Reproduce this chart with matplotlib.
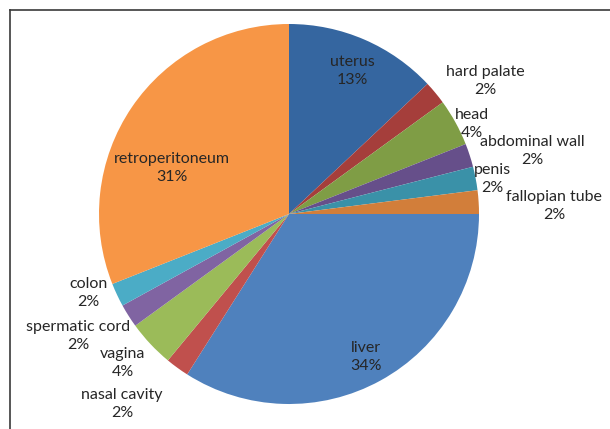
import matplotlib
matplotlib.use("Agg")
import matplotlib.pyplot as plt
from matplotlib.lines import Line2D

categories = ["uterus", "hard palate", "head", "abdominal wall", "penis",
              "fallopian tube", "liver", "nasal cavity", "vagina",
              "spermatic cord", "colon", "retroperitoneum"]
values = [13, 2, 4, 2, 2, 2, 34, 2, 4, 2, 2, 31]

colors = ["#3566A0", "#A53E3B", "#7F9D45", "#664F8A", "#3A91A8", "#D27E3A",
          "#4F81BD", "#C0504D", "#9BBB59", "#8064A2", "#4BACC6", "#F79646"]

# label centre positions in pixel layout (x from left, y from top)
label_pos = [(352, 71), (485, 81), (472, 124), (532, 151), (492, 179),
             (554, 206), (366, 357), (122, 404), (123, 363), (78, 336),
             (88, 293), (172, 168)]

W, H = 610, 429
fig = plt.figure(figsize=(W / 100, H / 100), dpi=100)
ax = fig.add_axes([0, 0, 1, 1])

cx, cy, r = 289, H - 214, 190
wedges, _ = ax.pie(values, colors=colors, startangle=90, counterclock=False,
                   center=(cx, cy), radius=r, frame=True,
                   wedgeprops=dict(linewidth=0))
ax.set_xlim(0, W)
ax.set_ylim(0, H)
ax.axis("off")

total = sum(values)
for name, v, (lx, ly) in zip(categories, values, label_pos):
    pct = f"{round(100 * v / total)}%"
    ax.text(lx, H - ly, f"{name}\n{pct}", ha="center", va="center",
            fontsize=11.5, family=["Lato", "DejaVu Sans"], color="#262626",
            linespacing=1.3)

# chart frame (top and left border)
fig.add_artist(Line2D([10 / W, 1], [1 - 10 / H, 1 - 10 / H],
                      transform=fig.transFigure, color="#3a3a3a", lw=1.2))
fig.add_artist(Line2D([10 / W, 10 / W], [0, 1 - 10 / H],
                      transform=fig.transFigure, color="#3a3a3a", lw=1.2))

fig.savefig("out.png", dpi=100)
